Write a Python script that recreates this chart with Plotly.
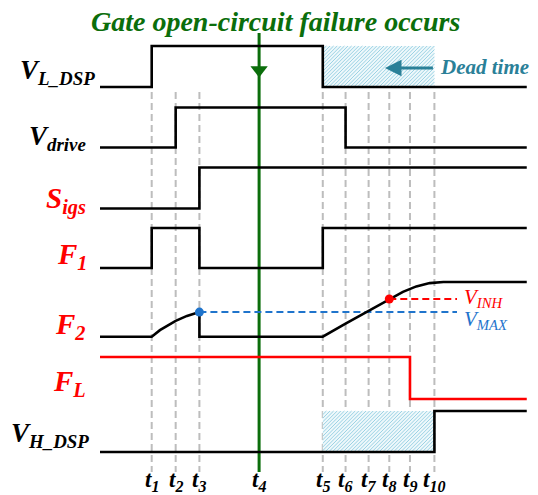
import plotly.graph_objects as go

W, H = 538, 495
SERIF = "Liberation Serif"

# ---- time instants t1 .. t10 (arbitrary time units) ----
t_marks = [2.2, 3.22, 4.23, 6.77, 9.48, 10.45, 11.43, 12.31, 13.19, 14.23]
t_labels = ["t<sub>%d</sub>" % i for i in range(1, 11)]
t_start, t_end = 0.0, 18.16
t1, t2, t3, t4, t5, t6, t7, t8, t9, t10 = t_marks

# ---- logic signals: switching instants and the level held after each ----
vl_dsp_t = [t_start, t1, t5, t_end]
vl_dsp_v = [0, 1, 0, 0]
vdrive_t = [t_start, t2, t6, t_end]
vdrive_v = [0, 1, 0, 0]
sigs_t = [t_start, t3, t_end]
sigs_v = [0, 1, 1]
f1_t = [t_start, t1, t3, t5, t_end]
f1_v = [0, 1, 0, 1, 1]
fl_t = [t_start, t9, t_end]
fl_v = [1, 0, 0]
vh_dsp_t = [t_start, t10, t_end]
vh_dsp_v = [0, 1, 1]

# ---- F2 analog waveform (normalised to its final value) ----
f2_t = [t_start, 2.2, 2.55, 2.9, 3.22, 3.7, 4.23, 4.23, 9.48, 10.45, 11.43,
        12.31, 12.89, 13.46, 14.03, 14.61, t_end]
f2_v = [0, 0, 0.12, 0.21, 0.29, 0.38, 0.45, 0, 0, 0.24, 0.47,
        0.69, 0.82, 0.92, 0.98, 1.0, 1.0]
v_max = 0.45
v_inh = 0.69

# ---- drawing geometry ----
X0, XS = 100.0, 23.5          # px of t=0, px per time unit
ROWS = {                       # (baseline, amplitude) in y units (px from bottom)
    "VL": (408.0, 41.0),
    "VD": (347.5, 40.0),
    "SG": (286.5, 41.0),
    "F1": (227.0, 40.0),
    "F2": (158.3, 54.7),
    "FL": (96.0, 42.0),
    "VH": (43.0, 41.0),
}


def ry(row, vals):
    b, a = ROWS[row]
    return [b + a * v for v in vals]


def ypx(px):
    return H - px


def xpaper(px):
    return px / W


BLACK = "#000000"
RED = "#ff0000"
BLUE = "#1f74cc"
GREEN = "#0b6e0b"
TEAL = "#2a8098"
GREY = "#bdbdbd"
HATCH_BG = "#eef8fb"
HATCH_FG = "#9ad2e4"

fig = go.Figure()

# dashed guides at every instant except the fault instant
for t in t_marks:
    if t == t4:
        continue
    fig.add_shape(type="line", xref="x", yref="y", x0=t, x1=t,
                  y0=ypx(92), y1=ypx(472), layer="below",
                  line=dict(color=GREY, width=2, dash="7px,4px"))


def hatch_segments(ta, tb, ya, yb, step=3.6):
    """45-degree hatch lines clipped to the window [ta, tb] x [ya, yb]."""
    xa, xb = X0 + XS * ta, X0 + XS * tb
    xs, ys = [], []
    c = xa - yb
    while c < xb - ya:
        y0 = max(ya, xa - c)
        y1 = min(yb, xb - c)
        if y1 > y0:
            xs += [(y0 + c - X0) / XS, (y1 + c - X0) / XS, None]
            ys += [y0, y1, None]
        c += step
    return xs, ys


# dead-time hatched windows
for row in ("VL", "VH"):
    b, a = ROWS[row]
    fig.add_trace(go.Scatter(
        x=[t5, t10, t10, t5, t5], y=[b, b, b + a, b + a, b],
        mode="lines", fill="toself", line=dict(width=0), fillcolor=HATCH_BG,
        hoverinfo="skip", showlegend=False))
    hx, hy = hatch_segments(t5, t10, b, b + a)
    fig.add_trace(go.Scatter(x=hx, y=hy, mode="lines",
                             line=dict(color=HATCH_FG, width=1),
                             hoverinfo="skip", showlegend=False))

# fault instant marker line
fig.add_trace(go.Scatter(x=[t4, t4], y=[ypx(33), ypx(472)], mode="lines",
                         line=dict(color=GREEN, width=3), showlegend=False,
                         hoverinfo="skip"))

# logic waveforms
for row, ts, vs, col in [("VL", vl_dsp_t, vl_dsp_v, BLACK),
                         ("VD", vdrive_t, vdrive_v, BLACK),
                         ("SG", sigs_t, sigs_v, BLACK),
                         ("F1", f1_t, f1_v, BLACK),
                         ("FL", fl_t, fl_v, RED),
                         ("VH", vh_dsp_t, vh_dsp_v, BLACK)]:
    fig.add_trace(go.Scatter(x=ts, y=ry(row, vs), mode="lines",
                             line=dict(color=col, width=2.6, shape="hv"),
                             showlegend=False, hoverinfo="skip"))

# thresholds on F2
x_thr_end = (457 - X0) / XS
fig.add_trace(go.Scatter(x=[t3, x_thr_end], y=ry("F2", [v_max, v_max]),
                         mode="lines", line=dict(color=BLUE, width=2, dash="7px,4px"),
                         showlegend=False, hoverinfo="skip"))
fig.add_trace(go.Scatter(x=[t8, x_thr_end], y=ry("F2", [v_inh, v_inh]),
                         mode="lines", line=dict(color=RED, width=2, dash="7px,4px"),
                         showlegend=False, hoverinfo="skip"))

# F2 analog waveform
fig.add_trace(go.Scatter(x=f2_t, y=ry("F2", f2_v), mode="lines",
                         line=dict(color=BLACK, width=2.6),
                         showlegend=False, hoverinfo="skip"))

# threshold crossing dots
fig.add_trace(go.Scatter(x=[t3], y=ry("F2", [v_max]), mode="markers",
                         marker=dict(color=BLUE, size=9), showlegend=False,
                         hoverinfo="skip"))
fig.add_trace(go.Scatter(x=[t8], y=ry("F2", [v_inh]), mode="markers",
                         marker=dict(color=RED, size=9), showlegend=False,
                         hoverinfo="skip"))

# arrow head on the fault line
fig.add_trace(go.Scatter(x=[t4], y=[ypx(70)], mode="markers",
                         marker=dict(symbol="triangle-down", color=GREEN, size=15,
                                     line=dict(width=0)),
                         showlegend=False, hoverinfo="skip"))

annotations = []


def bi_font(size, color, bold=True):
    return dict(family=SERIF, size=size, color=color,
                weight="bold" if bold else "normal", style="italic")


# title
annotations.append(dict(
    text="Gate open-circuit failure occurs", x=xpaper(276), y=ypx(21),
    xref="paper", yref="y", showarrow=False, xanchor="center", yanchor="middle",
    font=bi_font(28, GREEN)))

# row labels: (text, colour, size, right edge px, centre px)
row_labels = [
    ("V<sub>L_DSP</sub>", BLACK, 27, 97, 72),
    ("V<sub>drive</sub>", BLACK, 27, 88, 138),
    ("S<sub>igs</sub>", RED, 29, 88, 200),
    ("F<sub>1</sub>", RED, 29, 89, 256),
    ("F<sub>2</sub>", RED, 29, 87, 326),
    ("F<sub>L</sub>", RED, 29, 88, 383),
    ("V<sub>H_DSP</sub>", BLACK, 27, 91, 435),
]
for txt, col, sz, xr, yc in row_labels:
    annotations.append(dict(
        text=txt, x=xpaper(xr), y=ypx(yc), xref="paper", yref="y",
        showarrow=False, xanchor="right", yanchor="middle",
        font=bi_font(sz, col)))

# time labels
for t, lab in zip(t_marks, t_labels):
    annotations.append(dict(
        text=lab, x=t, y=ypx(481), xref="x", yref="y", showarrow=False,
        xanchor="center", yanchor="middle", font=bi_font(23, BLACK)))

# threshold labels
annotations.append(dict(
    text="V<sub>INH</sub>", x=xpaper(462), y=ypx(298), xref="paper", yref="y",
    showarrow=False, xanchor="left", yanchor="middle",
    font=bi_font(21, RED, bold=False)))
annotations.append(dict(
    text="V<sub>MAX</sub>", x=xpaper(462), y=ypx(320), xref="paper", yref="y",
    showarrow=False, xanchor="left", yanchor="middle",
    font=bi_font(21, BLUE, bold=False)))

# dead time callout
annotations.append(dict(
    text="Dead time", x=xpaper(438), y=ypx(67), xref="paper", yref="y",
    showarrow=False, xanchor="left", yanchor="middle", font=bi_font(21, TEAL)))
annotations.append(dict(
    text="", x=(385 - X0) / XS, y=ypx(68), ax=t10, ay=ypx(68),
    xref="x", yref="y", axref="x", ayref="y", showarrow=True,
    arrowhead=2, arrowsize=1.1, arrowwidth=3, arrowcolor=TEAL))

fig.update_layout(
    width=W, height=H, margin=dict(l=0, r=0, t=0, b=0),
    paper_bgcolor="white", plot_bgcolor="white",
    xaxis=dict(range=[-X0 / XS, (W - X0) / XS], visible=False, fixedrange=True),
    yaxis=dict(range=[0, H], visible=False, fixedrange=True),
    annotations=annotations, showlegend=False,
)

fig.write_html("out.html")
